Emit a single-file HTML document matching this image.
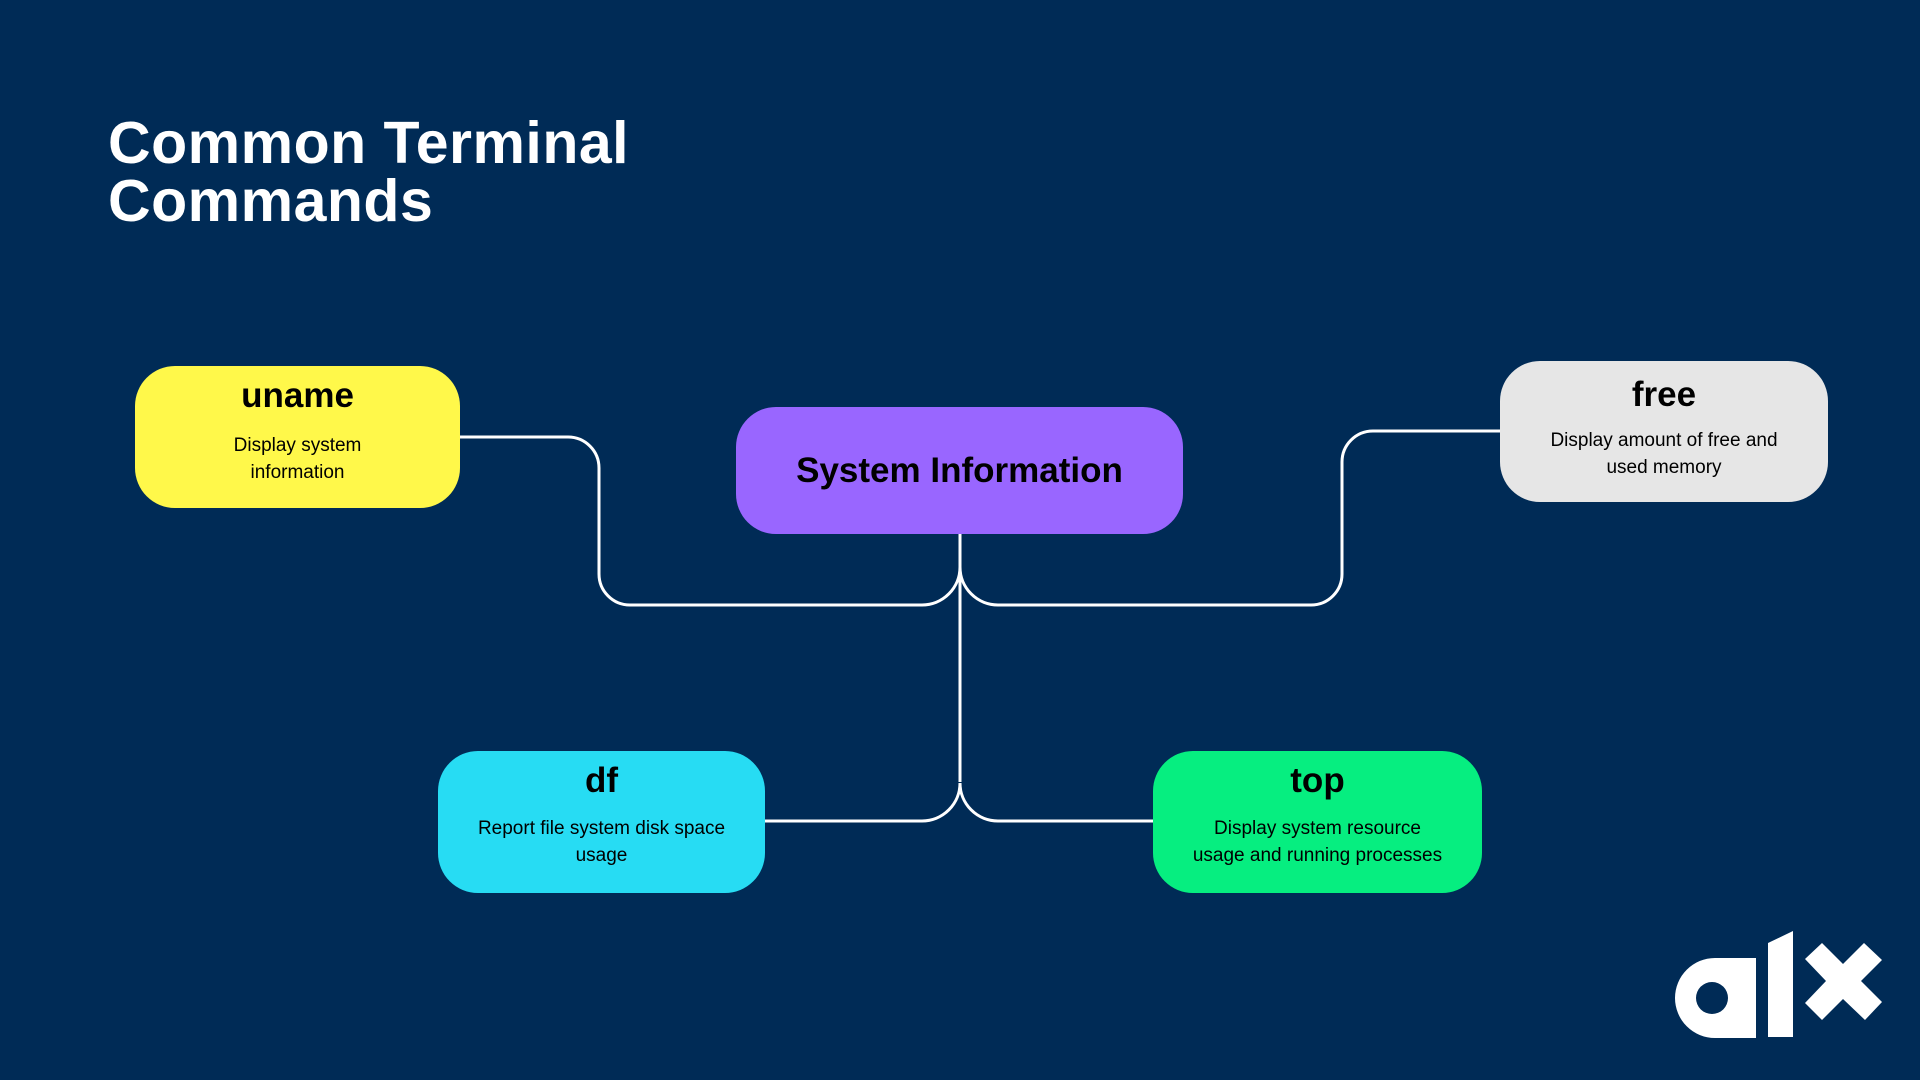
<!DOCTYPE html>
<html><head><meta charset="utf-8"><style>
body{margin:0;width:1920px;height:1080px;background:#002b56;position:relative;overflow:hidden;font-family:"Liberation Sans",sans-serif}
.t{position:absolute;left:108px;top:114px;color:#fff;font-weight:bold;font-size:59px;line-height:58px;letter-spacing:0.5px}
.n{position:absolute;box-sizing:border-box;border-radius:40px;text-align:center;color:#000}
.n h{display:block;font-weight:bold;font-size:35px;margin-top:10px;line-height:40px}
.n p{margin:14px 20px 0;font-size:19px;line-height:27px}
</style></head><body>
<div class="t">Common Terminal<br>Commands</div>
<svg width="1920" height="1080" style="position:absolute;left:0;top:0" fill="none" stroke="#fff" stroke-width="3">
<path d="M460 437 H568 A31 31 0 0 1 599 468 V574 A31 31 0 0 0 630 605 H922 A38 38 0 0 0 960 567"/>
<path d="M1500 431 H1373 A31 31 0 0 0 1342 462 V574 A31 31 0 0 1 1311 605 H998 A38 38 0 0 1 960 567"/>
<path d="M960 534 V782"/>
<path d="M765 821 H922 A38 38 0 0 0 960 783 A38 38 0 0 0 998 821 H1153"/>
<g fill="#fff" stroke="none">
<path d="M1715 958 A40 40 0 0 0 1715 1038 H1756 V958 Z M1712 982 A16 16 0 1 1 1712 1014 A16 16 0 1 1 1712 982 Z" fill-rule="evenodd"/>
<path d="M1768 943 L1793 931 V1037 H1768 Z"/>
<path d="M1805 959 L1822 943 L1843 964 L1864 943 L1882 960 L1861 981 L1882 1002 L1865 1020 L1843 999 L1822 1020 L1805 1003 L1826 981 Z"/>
</g>
</svg>
<div class="n" style="left:135px;top:366px;width:325px;height:142px;background:#fff84a"><h>uname</h><p style="margin-top:16px">Display system<br>information</p></div>
<div class="n" style="left:736px;top:407px;width:447px;height:127px;background:#9966ff;line-height:127px;font-weight:bold;font-size:35px">System Information</div>
<div class="n" style="left:1500px;top:361px;width:328px;height:141px;background:#e6e6e6"><h style="margin-top:14px">free</h><p style="margin-top:12px">Display amount of free and<br>used memory</p></div>
<div class="n" style="left:438px;top:751px;width:327px;height:142px;background:#27dcf3"><h>df</h><p>Report file system disk space<br>usage</p></div>
<div class="n" style="left:1153px;top:751px;width:329px;height:142px;background:#06ee80"><h>top</h><p>Display system resource<br>usage and running processes</p></div>
</body></html>
